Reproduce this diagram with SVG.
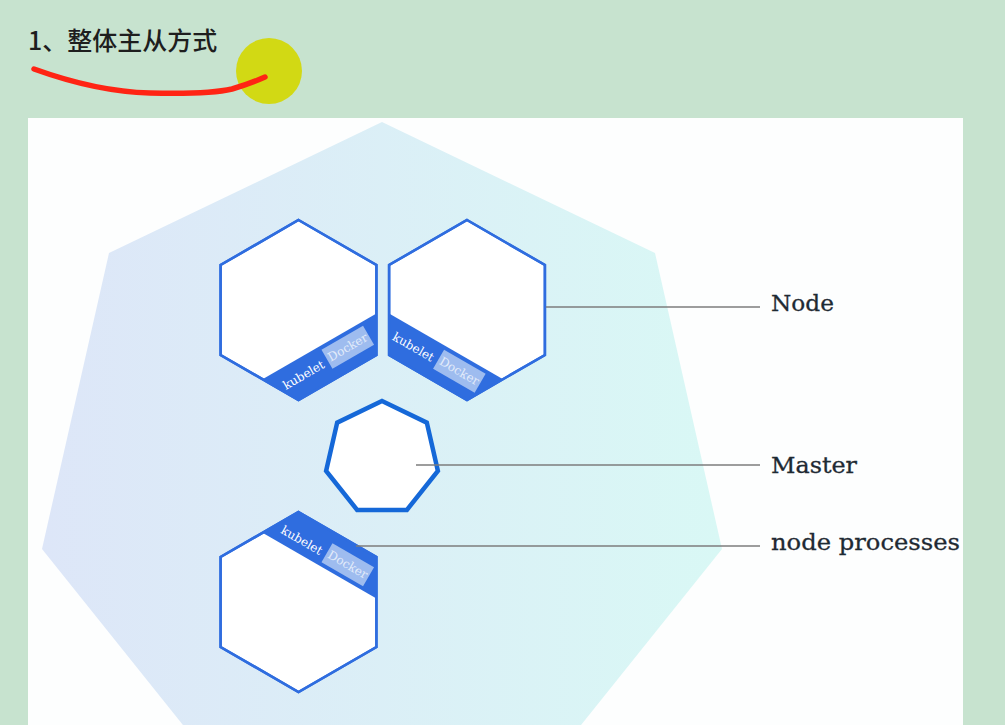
<svg xmlns="http://www.w3.org/2000/svg" width="1005" height="725" viewBox="0 0 1005 725">
  <defs>
    <linearGradient id="clusterGrad" x1="0" y1="0" x2="1" y2="0">
      <stop offset="0" stop-color="#dde6f8"/>
      <stop offset="1" stop-color="#d9f8f5"/>
    </linearGradient>
    <style>
      .hex { fill: #ffffff; stroke: #2f6ddf; stroke-width: 2.5; stroke-linejoin: miter; }
      .band { fill: #2f6ddf; }
      .dockbox { fill: #9ebcef; }
      .kube { fill: #ffffff; font-family: "DejaVu Serif", "Liberation Serif", serif; font-size: 12px; text-anchor: middle; }
      .dock { fill: #e2ebfa; font-family: "DejaVu Serif", "Liberation Serif", serif; font-size: 12px; text-anchor: middle; }
      .leader { stroke: #7d7d7d; stroke-width: 1.4; fill: none; }
      .label { fill: #1f2a33; font-family: "DejaVu Serif", "Liberation Serif", serif; font-size: 23px; stroke: #1f2a33; stroke-width: 0.3; }
    </style>
  </defs>

  <!-- background -->
  <rect x="0" y="0" width="1005" height="725" fill="#c7e3cf"/>

  <!-- title and annotation -->
  <g id="title">
    <text x="28" y="50" font-family="'Noto Sans CJK SC', 'Noto Sans', sans-serif" font-size="25" font-weight="500" fill="#1e1e1e">1、整体主从方式</text>
  </g>
  <g id="annotation">
    <circle cx="269" cy="71" r="33" fill="#d3d80a" opacity="0.95"/>
    <path d="M34,69 C70,82 110,92 150,93 C190,94 215,93 232,89 C246,85 256,81 265,77" fill="none" stroke="#ff2414" stroke-width="5.5" stroke-linecap="round"/>
  </g>

  <!-- white panel -->
  <rect id="panel" x="28" y="118" width="935" height="607" fill="#fdfefe"/>

  <!-- cluster heptagon -->
  <g id="cluster">
    <polygon points="382,122 655,253 722,549 533,785 231,785 42,549 109,253" fill="url(#clusterGrad)"/>
  </g>

  <!-- Node 1 -->
  <g id="node-1">
    <polygon class="hex" points="298.5,220 376.4,265 376.4,355 298.5,400 220.6,355 220.6,265"/>
    <g transform="translate(298.5,400) rotate(-30)">
      <polygon class="band" points="0,0 90,0 110.8,-36 -20.8,-36"/>
      <rect class="dockbox" x="45" y="-32" width="48" height="22"/>
      <text class="kube" x="17" y="-15">kubelet</text>
      <text class="dock" x="69" y="-17">Docker</text>
    </g>
    <polygon points="298.5,220 376.4,265 376.4,355 298.5,400 220.6,355 220.6,265" fill="none" stroke="#2f6ddf" stroke-width="2.5"/>
  </g>

  <!-- Node 2 -->
  <g id="node-2">
    <polygon class="hex" points="467,220 544.9,265 544.9,355 467,400 389.1,355 389.1,265"/>
    <g transform="translate(389.1,355) rotate(30)">
      <polygon class="band" points="0,0 90,0 110.8,-36 -20.8,-36"/>
      <rect class="dockbox" x="45" y="-32" width="48" height="22"/>
      <text class="kube" x="17" y="-15">kubelet</text>
      <text class="dock" x="69" y="-17">Docker</text>
    </g>
    <polygon points="467,220 544.9,265 544.9,355 467,400 389.1,355 389.1,265" fill="none" stroke="#2f6ddf" stroke-width="2.5"/>
  </g>

  <!-- Master -->
  <g id="master">
    <polygon points="382,401 426.8,422.6 437.9,471 406.9,509.9 357.1,509.9 326.1,471 337.2,422.6" fill="#ffffff" stroke="#1568d8" stroke-width="4.5" stroke-linejoin="miter"/>
  </g>

  <!-- Node 3 -->
  <g id="node-3">
    <polygon class="hex" points="298.5,512 376.4,557 376.4,647 298.5,692 220.6,647 220.6,557"/>
    <g transform="translate(298.5,512) rotate(30)">
      <polygon class="band" points="0,0 90,0 110.8,36 -20.8,36"/>
      <rect class="dockbox" x="45" y="10" width="48" height="22"/>
      <text class="kube" x="17" y="27">kubelet</text>
      <text class="dock" x="69" y="25">Docker</text>
    </g>
    <polygon points="298.5,512 376.4,557 376.4,647 298.5,692 220.6,647 220.6,557" fill="none" stroke="#2f6ddf" stroke-width="2.5"/>
  </g>

  <!-- connectors -->
  <g id="connectors">
    <line class="leader" x1="546" y1="307" x2="760" y2="307"/>
    <line class="leader" x1="416" y1="465" x2="760" y2="465"/>
    <line class="leader" x1="356" y1="546" x2="760" y2="546"/>
  </g>

  <!-- labels -->
  <g id="labels">
    <text class="label" x="771" y="311" textLength="63" lengthAdjust="spacingAndGlyphs">Node</text>
    <text class="label" x="771" y="473" textLength="86" lengthAdjust="spacingAndGlyphs">Master</text>
    <text class="label" x="771" y="550" textLength="189" lengthAdjust="spacingAndGlyphs">node processes</text>
  </g>
</svg>
